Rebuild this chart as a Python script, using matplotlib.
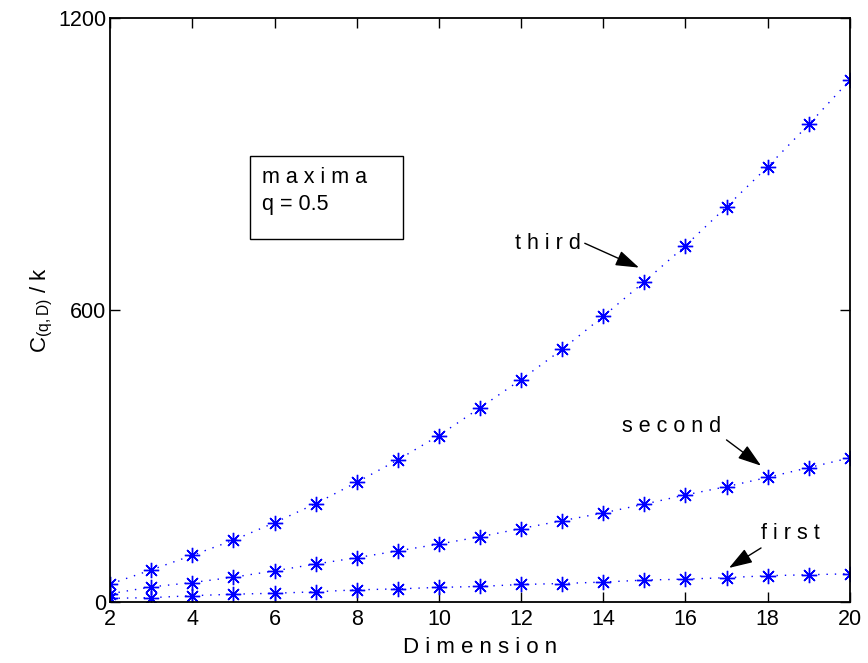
import matplotlib
matplotlib.use("Agg")
import matplotlib.pyplot as plt
from matplotlib.patches import Rectangle

plt.rcParams['font.family'] = ['Liberation Sans', 'DejaVu Sans']
plt.rcParams['mathtext.fontset'] = 'custom'
plt.rcParams['mathtext.rm'] = 'Liberation Sans'
plt.rcParams['mathtext.it'] = 'Liberation Sans'

dims = list(range(2, 21))
first = [7.5, 9, 13, 16, 18, 21, 25, 27, 30, 32, 36, 38, 41, 45, 47, 50, 54, 56, 58]
second = [17, 31, 40, 51, 64, 78, 91, 105, 119, 134, 151, 167, 183, 201, 220, 237, 256, 276, 296]
third = [37, 66, 96, 127, 163, 202, 246, 292, 342, 399, 457, 519, 587, 658, 732, 812, 894, 981, 1072]

xticks = [2, 4, 6, 8, 10, 12, 14, 16, 18, 20]
yticks = [0, 600, 1200]

fig = plt.figure(figsize=(8.68, 6.63), dpi=100)
ax = fig.add_axes([0.127, 0.092, 0.852, 0.881])

marker = (8, 2, 0)
for s in (first, second, third):
    ax.plot(dims, s, linestyle=(0, (1, 5)), color='blue', lw=1.0,
            marker=marker, markersize=11, markeredgewidth=1.0,
            markeredgecolor='blue')

ax.set_xlim(2, 20)
ax.set_ylim(0, 1200)
ax.set_xticks(xticks)
ax.set_yticks(yticks)
fs = 15.5
ax.tick_params(direction='in', length=7, width=1, top=True, right=True,
               labelsize=fs, pad=3)
ax.tick_params(axis='x', pad=5)
for sp in ax.spines.values():
    sp.set_linewidth(1.3)

ax.set_xlabel('D i m e n s i o n', fontsize=16, labelpad=5)
ax.set_ylabel(r'C$_{\mathregular{(q,D)}}$ / k', fontsize=16, labelpad=2)

ap = dict(arrowstyle='-|>,head_length=0.9,head_width=0.3', color='k', lw=1.0,
          mutation_scale=16, shrinkA=0, shrinkB=0)
ax.text(11.84, 737, 't h i r d', fontsize=fs, va='center', ha='left')
ax.annotate('', xy=(14.87, 687), xytext=(13.55, 737), arrowprops=ap)
ax.text(14.46, 360, 's e c o n d', fontsize=fs, va='center', ha='left')
ax.annotate('', xy=(17.84, 280), xytext=(17.0, 333), arrowprops=ap)
ax.text(17.84, 140, 'f i r s t', fontsize=fs, va='center', ha='left')
ax.annotate('', xy=(17.06, 70), xytext=(17.84, 111), arrowprops=ap)

# text box
x0 = (250 - 110) / 41.17 + 2
x1 = (403 - 110) / 41.17 + 2
y0 = (601 - 239) / 0.4858
y1 = (601 - 156) / 0.4858
ax.add_patch(Rectangle((x0, y0), x1 - x0, y1 - y0, fill=False, lw=1.0, ec='k'))
ax.text((262 - 110) / 41.17 + 2, (601 - 177) / 0.4858, 'm a x i m a',
        fontsize=fs, va='center', ha='left')
ax.text((262 - 110) / 41.17 + 2, (601 - 204) / 0.4858, 'q = 0.5',
        fontsize=fs, va='center', ha='left')

fig.savefig('out.png', dpi=100)
